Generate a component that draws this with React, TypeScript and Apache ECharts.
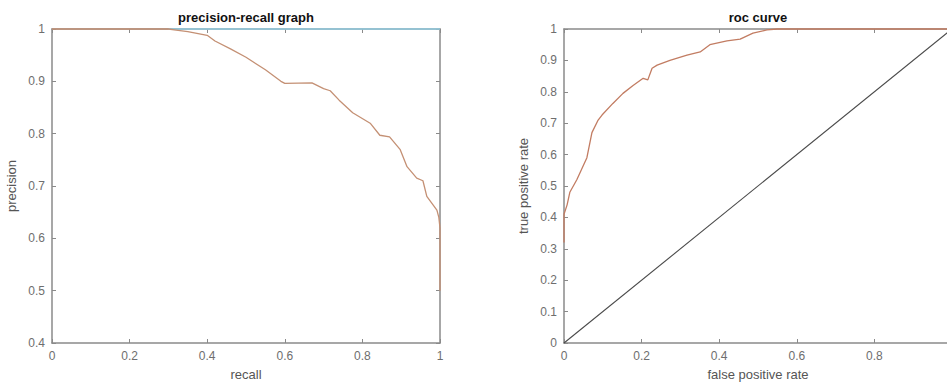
import React, { useEffect, useRef } from "react";
import * as echarts from "echarts";

// Precision-recall curve (recall, precision)
const prRecall = [0, 0.3, 0.32, 0.35, 0.4, 0.42, 0.46, 0.5, 0.55, 0.59, 0.6, 0.67, 0.7, 0.717, 0.74, 0.775, 0.82, 0.845, 0.87, 0.897, 0.915, 0.94, 0.956, 0.966, 0.992, 0.997, 1.0, 1.0, 1.0];
const prPrecision = [1, 1, 0.998, 0.995, 0.988, 0.977, 0.962, 0.946, 0.922, 0.9, 0.896, 0.897, 0.886, 0.882, 0.864, 0.84, 0.82, 0.797, 0.794, 0.77, 0.737, 0.715, 0.71, 0.68, 0.654, 0.64, 0.62, 0.58, 0.5];

// Reference line at precision 1
const prTopRecall = [0.3, 1];
const prTopPrecision = [1, 1];

// ROC curve (false positive rate, true positive rate)
const rocFpr = [0, 0, 0.008, 0.015, 0.033, 0.059, 0.072, 0.088, 0.098, 0.126, 0.152, 0.178, 0.204, 0.216, 0.227, 0.24, 0.273, 0.317, 0.351, 0.376, 0.42, 0.454, 0.487, 0.523, 0.55, 0.7, 1];
const rocTpr = [0.32, 0.41, 0.44, 0.48, 0.52, 0.59, 0.67, 0.71, 0.726, 0.763, 0.795, 0.82, 0.843, 0.838, 0.875, 0.885, 0.9, 0.917, 0.927, 0.95, 0.962, 0.968, 0.987, 0.997, 1, 1, 1];

// Chance diagonal
const diagFpr = [0, 1];
const diagTpr = [0, 1];

const FONT = "'Liberation Sans', Arial, Helvetica, sans-serif";
const AXIS_COLOR = "#8a8a8a";
const LABEL_COLOR = "#6e6e6e";

const zip = (a: number[], b: number[]) => a.map((v, i) => [v, b[i]]);

function axisBase(extra: any) {
  return {
    type: "value",
    axisLine: { show: true, onZero: false, lineStyle: { color: AXIS_COLOR, width: 1.5 } },
    axisTick: { show: true, inside: true, length: 4, lineStyle: { color: AXIS_COLOR } },
    splitLine: { show: false },
    axisLabel: { color: LABEL_COLOR, fontSize: 12, fontFamily: FONT, margin: 7 },
    nameTextStyle: { color: "#555", fontSize: 13, fontFamily: FONT },
    ...extra,
  };
}

function mirrorAxis(extra: any) {
  return axisBase({ axisLabel: { show: false }, ...extra });
}

export default function App() {
  const ref = useRef<HTMLDivElement>(null);
  useEffect(() => {
    if (!ref.current) return;
    const chart = echarts.init(ref.current, undefined, { renderer: "svg" });
    const option: any = {
      animation: false,
      backgroundColor: "#ffffff",
      grid: [
        { left: 52, top: 29, width: 388, height: 314, outerBoundsMode: "none", containLabel: false },
        { left: 564, top: 29, width: 388, height: 314, outerBoundsMode: "none", containLabel: false },
      ],
      xAxis: [
        axisBase({ gridIndex: 0, position: "bottom", min: 0, max: 1, interval: 0.2, name: "recall", nameLocation: "middle", nameGap: 25 }),
        mirrorAxis({ gridIndex: 0, position: "top", min: 0, max: 1, interval: 0.2 }),
        axisBase({
          gridIndex: 1, position: "bottom", min: 0, max: 1, interval: 0.2, name: "false positive rate", nameLocation: "middle", nameGap: 25,
          axisLabel: { color: LABEL_COLOR, fontSize: 12, fontFamily: FONT, margin: 7, showMaxLabel: false },
        }),
        mirrorAxis({ gridIndex: 1, position: "top", min: 0, max: 1, interval: 0.2 }),
      ],
      yAxis: [
        axisBase({ gridIndex: 0, position: "left", min: 0.4, max: 1, interval: 0.1, name: "precision", nameLocation: "middle", nameGap: 34 }),
        mirrorAxis({ gridIndex: 0, position: "right", min: 0.4, max: 1, interval: 0.1 }),
        axisBase({ gridIndex: 1, position: "left", min: 0, max: 1, interval: 0.1, name: "true positive rate", nameLocation: "middle", nameGap: 34 }),
        mirrorAxis({ gridIndex: 1, position: "right", min: 0, max: 1, interval: 0.1 }),
      ],
      graphic: [
        { type: "text", x: 246, y: 17, style: { text: "precision-recall graph", align: "center", verticalAlign: "middle", font: `bold 13px ${FONT}`, fill: "#111" } },
        { type: "text", x: 758, y: 17, style: { text: "roc curve", align: "center", verticalAlign: "middle", font: `bold 13px ${FONT}`, fill: "#111" } },
      ],
      series: [
        { type: "line", xAxisIndex: 0, yAxisIndex: 0, data: zip(prTopRecall, prTopPrecision), showSymbol: false, symbol: "none", clip: false, lineStyle: { color: "#8fcbe0", width: 1.5 } },
        { type: "line", xAxisIndex: 0, yAxisIndex: 0, data: zip(prRecall, prPrecision), showSymbol: false, symbol: "none", clip: false, lineStyle: { color: "#c49074", width: 1.3 } },
        { type: "line", xAxisIndex: 2, yAxisIndex: 2, data: zip(diagFpr, diagTpr), showSymbol: false, symbol: "none", clip: false, lineStyle: { color: "#4a4a4a", width: 1.1 } },
        { type: "line", xAxisIndex: 2, yAxisIndex: 2, data: zip(rocFpr, rocTpr), showSymbol: false, symbol: "none", clip: false, lineStyle: { color: "#c27c62", width: 1.3 } },
      ],
    };
    chart.setOption(option);
    return () => chart.dispose();
  }, []);
  return (
    <div
      ref={ref}
      style={{ position: "absolute", left: 0, top: 0, width: 947, height: 383, background: "#fff" }}
    />
  );
}
